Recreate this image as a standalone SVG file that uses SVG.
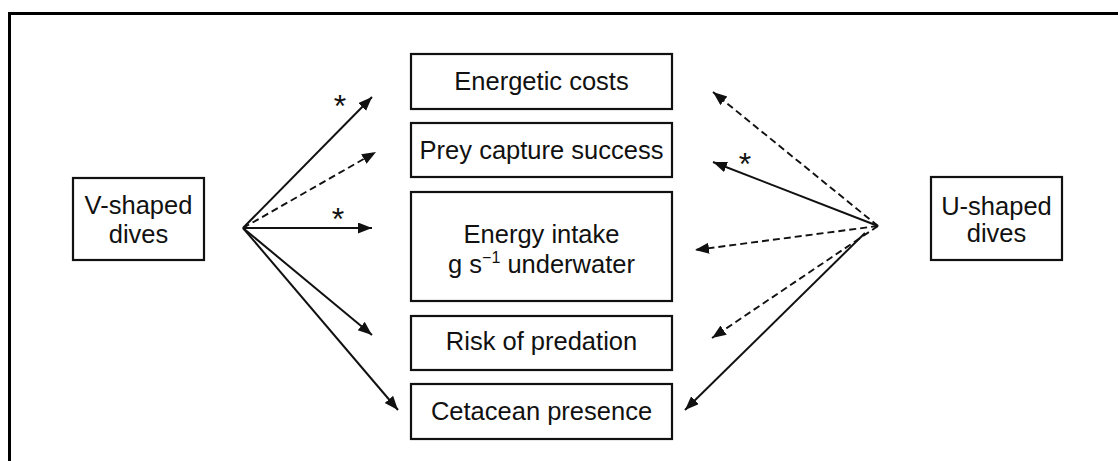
<svg xmlns="http://www.w3.org/2000/svg" width="1118" height="461" viewBox="0 0 1118 461">
<style>
.box{fill:#fff;stroke:#111;stroke-width:2.2}
.t{font-family:"Liberation Sans",Arial,sans-serif;font-size:25.5px;fill:#111;text-anchor:middle}
.ast{font-family:"Liberation Sans",Arial,sans-serif;font-size:32px;fill:#111;text-anchor:middle}
.s{stroke:#111;stroke-width:2;fill:none}
.d{stroke:#111;stroke-width:1.9;fill:none;stroke-dasharray:7 4}
</style>
<defs>
<marker id="ah" markerUnits="userSpaceOnUse" markerWidth="16" markerHeight="13" refX="14" refY="5.5" orient="auto">
<path d="M0,0 L14,5.5 L0,11 z" fill="#111"/>
</marker>
</defs>
<rect width="1118" height="461" fill="#fff"/>
<path d="M9.5,461 V13.5 H1118" fill="none" stroke="#000" stroke-width="3"/>

<g id="v-shaped">
<rect class="box" x="73" y="178" width="131" height="82"/>
<text class="t" x="138.5" y="213.5">V-shaped</text>
<text class="t" x="138.5" y="242.5">dives</text>
</g>
<g id="u-shaped">
<rect class="box" x="931" y="177" width="131" height="83"/>
<text class="t" x="996.5" y="214.5">U-shaped</text>
<text class="t" x="996.5" y="242">dives</text>
</g>
<g id="energetic-costs">
<rect class="box" x="411" y="54" width="261" height="55"/>
<text class="t" x="541.5" y="90">Energetic costs</text>
</g>
<g id="prey-capture">
<rect class="box" x="411" y="123" width="261" height="54"/>
<text class="t" x="541.5" y="158.5">Prey capture success</text>
</g>
<g id="energy-intake">
<rect class="box" x="411" y="192" width="261" height="109"/>
<text class="t" x="541.5" y="242.5">Energy intake</text>
<text class="t" x="541.5" y="272.5">g s<tspan font-size="16" dy="-10">−1</tspan><tspan dy="10"> underwater</tspan></text>
</g>
<g id="risk-predation">
<rect class="box" x="411" y="316" width="261" height="54"/>
<text class="t" x="541.5" y="350">Risk of predation</text>
</g>
<g id="cetacean-presence">
<rect class="box" x="411" y="384" width="261" height="55"/>
<text class="t" x="541.5" y="420">Cetacean presence</text>
</g>

<g id="connectors">
<line class="s" x1="243" y1="228" x2="372" y2="97" marker-end="url(#ah)"/>
<line class="d" x1="243" y1="228" x2="376" y2="152" marker-end="url(#ah)"/>
<line class="s" x1="243" y1="228" x2="372" y2="228" marker-end="url(#ah)"/>
<line class="s" x1="243" y1="228" x2="372" y2="335" marker-end="url(#ah)"/>
<line class="s" x1="243" y1="228" x2="398" y2="410" marker-end="url(#ah)"/>
<line class="d" x1="878" y1="226" x2="713" y2="92" marker-end="url(#ah)"/>
<line class="s" x1="878" y1="226" x2="713" y2="162" marker-end="url(#ah)"/>
<line class="d" x1="878" y1="226" x2="695" y2="250" marker-end="url(#ah)"/>
<line class="d" x1="878" y1="226" x2="712" y2="338" marker-end="url(#ah)"/>
<line class="s" x1="865" y1="233" x2="685" y2="410" marker-end="url(#ah)"/>
<text class="ast" x="340" y="117">*</text>
<text class="ast" x="338" y="230">*</text>
<text class="ast" x="745" y="175">*</text>
</g>
</svg>
